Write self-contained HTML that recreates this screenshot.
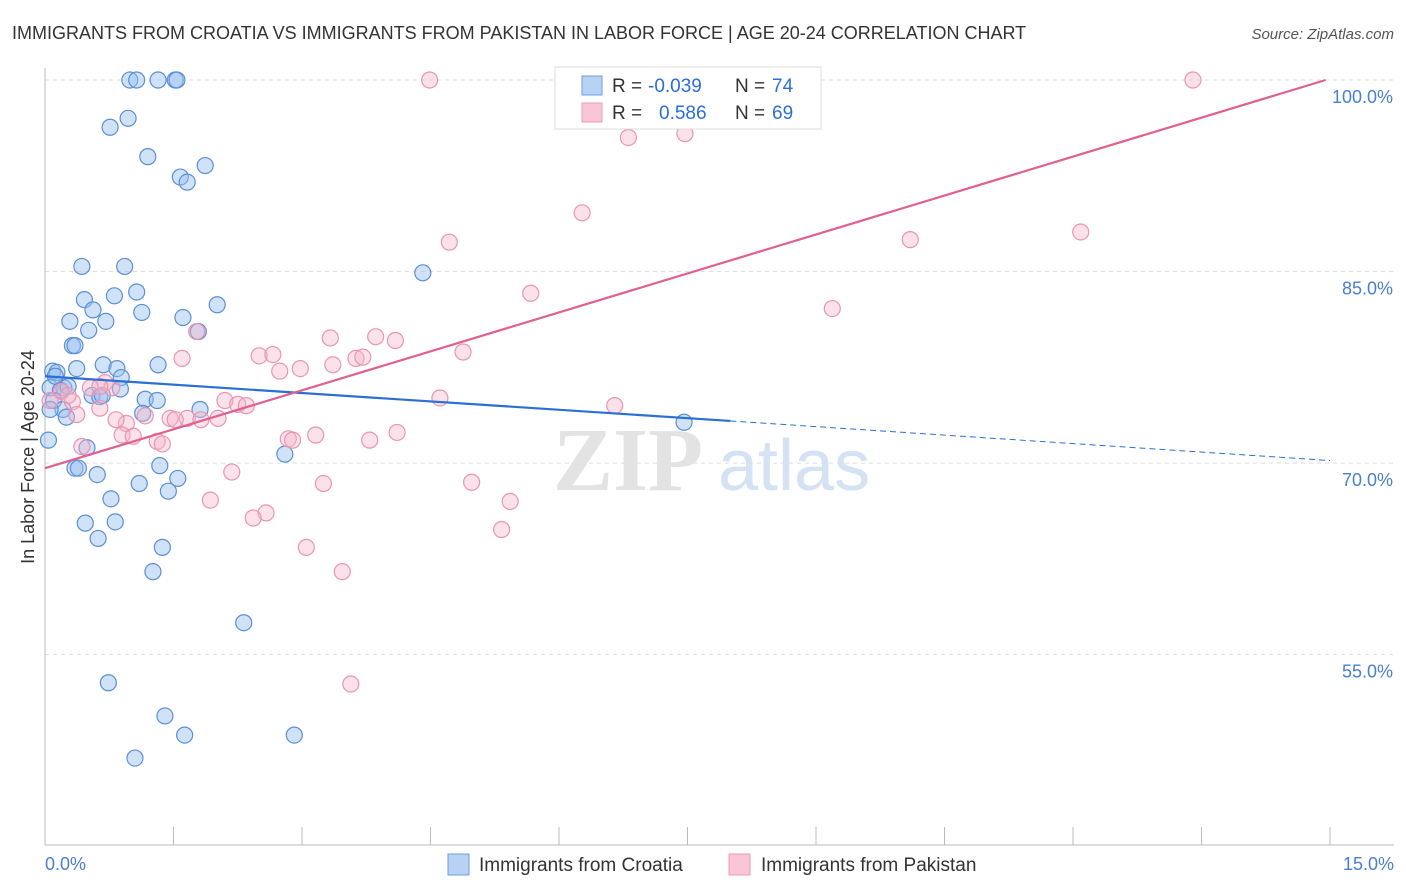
<!DOCTYPE html>
<html><head><meta charset="utf-8">
<style>
body{margin:0;background:#fff;font-family:"Liberation Sans",sans-serif;}
#wrap{position:relative;width:1406px;height:892px;overflow:hidden;}
</style></head>
<body>
<div id="wrap">
<svg id="svg" width="1406" height="892"></svg>
</div>
<script>
const xTicks=[0,1.5,3,4.5,6,7.5,9,10.5,12,13.5,15];
const yTicks=[100,85,70,55];
const yTickLabels=["100.0%","85.0%","70.0%","55.0%"];
const croatiaX=[0.99,1.07,1.32,1.52,1.54,0.76,0.97,1.20,1.87,1.58,1.66,0.43,0.93,1.07,0.46,0.81,0.56,0.29,0.71,1.13,0.51,1.61,2.01,1.79,0.32,0.35,0.68,0.84,1.32,0.37,0.09,0.14,0.89,0.06,0.22,0.18,0.88,0.55,0.64,1.17,1.31,0.10,0.21,0.25,1.14,1.81,0.06,0.04,0.49,4.41,7.46,2.80,1.34,0.35,0.39,1.55,0.61,1.10,1.44,0.77,0.47,0.82,0.62,1.37,1.26,2.32,0.74,1.40,1.63,2.91,1.05,0.12,0.27,0.67];
const croatiaY=[100,100,100,100,100,96.3,97.0,94.0,93.3,92.4,92.0,85.4,85.4,83.4,82.8,83.1,82.0,81.1,81.1,81.8,80.4,81.4,82.4,80.3,79.2,79.2,77.7,77.4,77.7,77.4,77.2,77.1,76.7,75.9,75.9,75.7,75.8,75.3,75.2,75.0,74.9,74.9,74.2,73.6,73.9,74.2,74.2,71.8,71.2,84.9,73.2,70.7,69.8,69.6,69.6,68.8,69.1,68.4,67.8,67.2,65.3,65.4,64.1,63.4,61.5,57.5,52.8,50.2,48.7,48.7,46.9,76.8,76.0,75.3];
const pakistanX=[4.49,7.00,7.32,13.40,6.81,7.47,6.27,4.72,10.10,12.09,5.67,9.19,1.77,3.33,3.86,4.09,4.88,1.60,2.50,2.66,3.63,3.71,3.36,2.98,2.74,4.61,6.65,0.70,0.78,0.53,0.19,0.32,0.64,0.06,0.37,2.10,2.25,2.35,1.46,1.66,1.82,2.02,0.95,1.17,0.90,1.03,1.31,1.37,0.43,2.84,2.89,3.16,3.79,4.11,2.18,3.25,4.98,5.43,1.93,2.58,2.43,5.33,3.05,3.47,3.57,0.27,0.64,0.83,1.52];
const pakistanY=[100,100,100,100,95.5,95.8,89.6,87.3,87.5,88.1,83.3,82.1,80.3,79.8,79.9,79.6,78.7,78.2,78.4,78.5,78.2,78.3,77.7,77.4,77.2,75.1,74.5,76.3,75.9,75.9,75.6,74.8,74.3,74.9,73.8,74.9,74.6,74.5,73.5,73.5,73.4,73.5,73.1,73.7,72.2,72.1,71.7,71.5,71.3,71.9,71.8,72.2,71.8,72.4,69.3,68.4,68.5,67.0,67.1,66.1,65.7,64.8,63.4,61.5,52.7,75.3,76.0,73.4,73.4];
const croatiaTrend=[[0,76.8],[8.0,73.3],[15,70.2]];
const pakistanTrend=[[0,69.6],[14.95,100]];

const X0=45,X1=1330,Y0=845;
const xs=v=>X0+(v/15)*(X1-X0);
const ys=v=>80+(100-v)*12.77;
const svg=document.getElementById('svg');
const NS='http://www.w3.org/2000/svg';
function mk(tag,attrs,parent){const e=document.createElementNS(NS,tag);for(const k in attrs)e.setAttribute(k,attrs[k]);(parent||svg).appendChild(e);return e;}

// title
let t=mk('text',{x:12,y:39,'font-size':18,fill:'#333'});t.textContent='IMMIGRANTS FROM CROATIA VS IMMIGRANTS FROM PAKISTAN IN LABOR FORCE | AGE 20-24 CORRELATION CHART';

t=mk('text',{x:1394,y:39,'font-size':15,fill:'#555','text-anchor':'end','font-style':'italic'});t.textContent='Source: ZipAtlas.com';


// gridlines
yTicks.forEach((v,i)=>{
 const g=mk('line',{x1:X0,x2:1394,y1:ys(v),y2:ys(v),stroke:'#ddd','stroke-dasharray':'4,4'});
 
 const l=mk('text',{x:1393,y:ys(v)+23,'font-size':18,fill:'#4a7fd0','text-anchor':'end'});l.textContent=yTickLabels[i];
 
});
// axes
let a=mk('line',{x1:X0,x2:X0,y1:68,y2:Y0,stroke:'#bbb'});
a=mk('line',{x1:X0,x2:1394,y1:Y0,y2:Y0,stroke:'#bbb'});
xTicks.forEach(v=>{const k=mk('line',{x1:xs(v),x2:xs(v),y1:Y0,y2:Y0-18,stroke:'#bbb'});});
t=mk('text',{x:45,y:870,'font-size':18,fill:'#4a7fd0'});t.textContent='0.0%';
t=mk('text',{x:1394,y:870,'font-size':18,fill:'#4a7fd0','text-anchor':'end'});t.textContent='15.0%';
t=mk('text',{x:0,y:0,'font-size':18,fill:'#333','text-anchor':'middle',transform:'translate(34,457) rotate(-90)'});t.textContent='In Labor Force | Age 20-24';


// watermark
t=mk('text',{x:553,y:490,'font-size':90,fill:'#e3e3e3','font-family':'Liberation Serif, serif','font-weight':'bold'});t.textContent='ZIP';

t=mk('text',{x:718,y:490,'font-size':72,fill:'#d4e2f4'});t.textContent='atlas';


// points
croatiaX.forEach((v,i)=>{const c=mk('circle',{cx:xs(v),cy:ys(croatiaY[i]),r:8,fill:'rgba(150,190,240,0.45)',stroke:'#5b8fd6','stroke-width':1.2});
 });
pakistanX.forEach((v,i)=>{const c=mk('circle',{cx:xs(v),cy:ys(pakistanY[i]),r:8,fill:'rgba(245,180,200,0.4)',stroke:'#e995b2','stroke-width':1.2});
 });

// trends
let ln=mk('line',{x1:xs(croatiaTrend[0][0]),y1:ys(croatiaTrend[0][1]),x2:xs(croatiaTrend[1][0]),y2:ys(croatiaTrend[1][1]),stroke:'#2a6fd4','stroke-width':2.2});

ln=mk('line',{x1:xs(croatiaTrend[1][0]),y1:ys(croatiaTrend[1][1]),x2:xs(croatiaTrend[2][0]),y2:ys(croatiaTrend[2][1]),stroke:'#2a6fd4','stroke-width':1,'stroke-dasharray':'6,4'});

ln=mk('line',{x1:xs(pakistanTrend[0][0]),y1:ys(pakistanTrend[0][1]),x2:xs(pakistanTrend[1][0]),y2:ys(pakistanTrend[1][1]),stroke:'#e0608f','stroke-width':2.2});


// legend box
const lg=mk('g',{});
mk('rect',{x:555,y:67,width:266,height:62,fill:'#fff',stroke:'#ddd'},lg);
mk('rect',{x:582,y:76,width:20,height:19,fill:'#b8d2f4',stroke:'#6f9ee0'},lg);
mk('rect',{x:582,y:103,width:20,height:19,fill:'#f8c6d6',stroke:'#eb9bb7'},lg);
[['R = ',612,92,'#333'],['-0.039',648,92,'#2a6fd4'],['N = ',735,92,'#333'],['74',772,92,'#2a6fd4'],
 ['R = ',612,119,'#333'],['0.586',659,119,'#2a6fd4'],['N = ',735,119,'#333'],['69',772,119,'#2a6fd4']].forEach(d=>{
 const e=mk('text',{x:d[1],y:d[2],'font-size':19,fill:d[3]},lg);e.textContent=d[0];
 });

// bottom legend
let r=mk('rect',{x:448,y:854,width:21,height:21,fill:'#b8d2f4',stroke:'#6f9ee0'});
t=mk('text',{x:479,y:871,'font-size':19,fill:'#333'});t.textContent='Immigrants from Croatia';
r=mk('rect',{x:729,y:854,width:21,height:21,fill:'#f8c6d6',stroke:'#eb9bb7'});
t=mk('text',{x:761,y:871,'font-size':19,fill:'#333'});t.textContent='Immigrants from Pakistan';
</script>
</body></html>
